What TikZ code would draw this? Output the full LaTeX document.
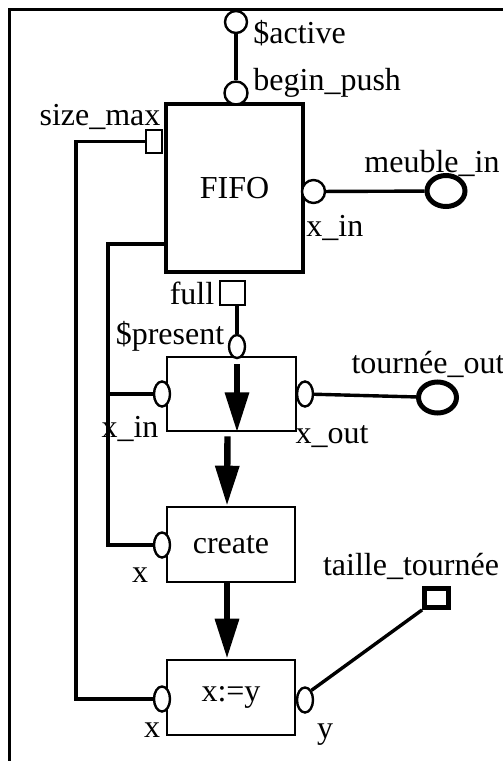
\documentclass[tikz,border=0pt]{standalone}
\usepackage{fontspec}
\setmainfont{Liberation Serif}
\usetikzlibrary{positioning,arrows.meta,shapes.geometric}

\tikzset{
  wire/.style={line width=1.7pt},
  flow/.style={line width=3.2pt,-{Triangle[length=20pt,width=11.5pt]}},
  block/.style={draw,line width=1.3pt,minimum width=64pt,minimum height=37.5pt,inner sep=0pt},
  bigblock/.style={draw,line width=2.2pt,minimum width=68.5pt,minimum height=84pt,inner sep=0pt},
  port/.style={draw,ellipse,fill=white,line width=1.2pt,minimum width=8pt,minimum height=12.5pt,inner sep=0pt},
  rport/.style={draw,circle,fill=white,line width=1.2pt,minimum size=11.5pt,inner sep=0pt},
  sport/.style={draw,rectangle,fill=white,line width=1.2pt,minimum width=8pt,minimum height=11.5pt,inner sep=0pt},
  extport/.style={draw,ellipse,fill=white,line width=2.5pt,minimum width=19pt,minimum height=15.5pt,inner sep=0pt},
  extsq/.style={draw,rectangle,fill=white,line width=2.4pt,minimum width=12pt,minimum height=9.5pt,inner sep=0pt},
  lbl/.style={inner sep=0pt}
}

\begin{document}
\begin{tikzpicture}[x=0.5pt,y=-0.5pt,font=\fontsize{16}{19}\selectfont]
        \useasboundingbox (0,0) rectangle (503,761);
        \draw[line width=1.2pt] (9.5,761) -- (9.5,9.5) -- (503,9.5);

        % blocks
        \node[bigblock] (fifo) at (234.5,188) {FIFO};
        \node[block,minimum width=64.5pt,minimum height=37pt] (mid) at (231.5,394) {};
        \node[block] (cr) at (231,544.5) {create};
        \node[block] (asg) at (231,697.5) {x:=y};

        % ports
        \node[rport,minimum size=11pt] (act) at (236,22) {};
        \node[rport] (bp) at (236,93) {};
        \node[sport] (sm) at (154,141.5) {};
        \node[rport] (fx) at (313.5,191.5) {};
        \node[extport] (mi) at (446,191) {};
        \node[sport,minimum width=12.5pt,minimum height=12pt] (fu) at (232.5,293) {};
        \node[port,minimum height=11.5pt] (pr) at (237,346.5) {};
        \node[port] (mxin) at (162,394) {};
        \node[port] (mxout) at (305,394) {};
        \node[extport] (to) at (437.5,397.5) {};
        \node[port] (cx) at (162,545) {};
        \node[port] (ax) at (162,699) {};
        \node[port] (ay) at (305,700) {};
        \node[extsq] (tt) at (436.5,598) {};

        % labels
        \node[lbl,anchor=west] (l-act) at (253,33) {\$active};
        \node[lbl,anchor=west] (l-bp) at (253,83) {begin\_push};
        \node[lbl] (l-sm) at (100,117) {size\_max};
        \node[lbl] (l-mi) at (432,163) {meuble\_in};
        \node[lbl,anchor=west] (l-fx) at (306,228) {x\_in};
        \node[lbl] (l-fu) at (192,293) {full};
        \node[lbl] (l-pr) at (170,336) {\$present};
        \node[lbl] (l-to) at (428,364) {tournée\_out};
        \node[lbl] (l-mxin) at (130,429) {x\_in};
        \node[lbl] (l-mxout) at (332,437) {x\_out};
        \node[lbl] (l-cx) at (140,575) {x};
        \node[lbl] (l-tt) at (411,566) {taille\_tournée};
        \node[lbl] (l-ax) at (152,730) {x};
        \node[lbl] (l-ay) at (325,735) {y};

        % wires
        \coordinate (busa) at (108,244);
        \draw[wire] (act) -- (bp);
        \draw[wire] (sm.west) -- ++(-69,0) |- (ax.west);
        \draw[wire] (fifo.west |- busa) -- (busa) |- (cx.west);
        \draw[wire] (mxin.west) -- (mxin.west -| busa);
        \draw[wire] (fx) -- (mi);
        \draw[wire] (pr.north |- fu.south) -- (pr.north);
        \draw[wire] (mxout) -- (to);
        \draw[wire] (ay.north east) -- (tt.south west);

        % flow
        \draw[flow] ([yshift=-2.5pt]pr.south) -- (pr.south |- mid.south);
        \draw[flow] ([xshift=-2pt,yshift=-2pt]mid.south) -- ([xshift=-2pt]cr.north);
        \draw[flow] ([xshift=-2pt]cr.south) -- ([xshift=-2pt]asg.north);
    \end{tikzpicture}
\end{document}
